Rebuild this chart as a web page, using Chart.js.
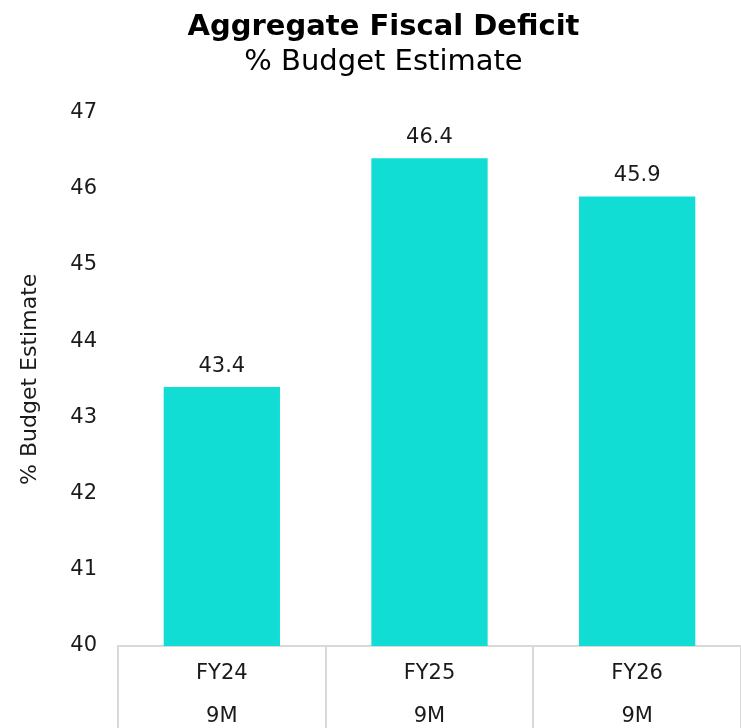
<!DOCTYPE html>
<html>
<head>
<meta charset="utf-8">
<script src="https://cdn.jsdelivr.net/npm/chart.js@4"></script>
<style>
  html, body { margin: 0; padding: 0; background: #fff; }
  #wrap { width: 741px; height: 728px; }
</style>
</head>
<body>
<div id="wrap"><canvas id="chart" width="741" height="728"></canvas></div>
<script>
// data
const categories = [['FY24', '9M'], ['FY25', '9M'], ['FY26', '9M']];
const deficitPct = [43.4, 46.4, 45.9];
const yTicks = [40, 41, 42, 43, 44, 45, 46, 47];

const FONT = "'DejaVu Sans', sans-serif";
const TEXT = '#1a1a1a';
const BAR = '#12DDD4';
const LINE = '#d9d9d9';

// value labels above the bars
const valueLabels = {
  id: 'valueLabels',
  afterDatasetsDraw(chart) {
    const ctx = chart.ctx;
    const meta = chart.getDatasetMeta(0);
    ctx.save();
    ctx.font = '21px ' + FONT;
    ctx.fillStyle = TEXT;
    ctx.textAlign = 'center';
    ctx.textBaseline = 'bottom';
    meta.data.forEach((bar, i) => {
      ctx.fillText(deficitPct[i].toFixed(1), bar.x, bar.y - 10);
    });
    ctx.restore();
  }
};

// table-like separators under the x axis, at the category boundaries
const categoryCells = {
  id: 'categoryCells',
  afterDraw(chart) {
    const x = chart.scales.x;
    const ctx = chart.ctx;
    const half = (x.getPixelForValue(1) - x.getPixelForValue(0)) / 2;
    ctx.save();
    ctx.strokeStyle = LINE;
    ctx.lineWidth = 2;
    ctx.beginPath();
    for (let i = 0; i <= categories.length; i++) {
      const px = Math.round(x.getPixelForValue(i) - half);
      ctx.moveTo(px, x.top);
      ctx.lineTo(px, chart.height);
    }
    ctx.stroke();
    ctx.restore();
  }
};

new Chart(document.getElementById('chart'), {
  type: 'bar',
  data: {
    labels: categories,
    datasets: [{
      data: deficitPct,
      backgroundColor: BAR,
      borderWidth: 0,
      categoryPercentage: 0.56,
      barPercentage: 1
    }]
  },
  options: {
    responsive: false,
    animation: false,
    // left padding pushes the centred title to the right, like the reference
    layout: { padding: { left: 26, top: 0, right: 0, bottom: 0 } },
    plugins: {
      legend: { display: false },
      tooltip: { enabled: false },
      title: {
        display: true,
        text: 'Aggregate Fiscal Deficit',
        color: '#000',
        font: { family: FONT, size: 29, weight: 'bold' },
        padding: { top: 10, bottom: 0 }
      },
      subtitle: {
        display: true,
        text: '% Budget Estimate',
        color: '#000',
        font: { family: FONT, size: 29 },
        padding: { top: 0, bottom: 33 }
      }
    },
    scales: {
      x: {
        afterFit(axis) { axis.height = 82; },
        grid: { display: false, drawTicks: false },
        border: { display: true, color: LINE, width: 2 },
        ticks: {
          color: TEXT,
          font: { family: FONT, size: 21, lineHeight: 2.05 },
          padding: 6
        }
      },
      y: {
        min: 40,
        max: 47,
        afterBuildTicks(axis) { axis.ticks = yTicks.map(v => ({ value: v })); },
        afterFit(axis) { axis.width = 92; },
        grid: { display: false, drawTicks: false },
        border: { display: false },
        ticks: {
          color: TEXT,
          font: { family: FONT, size: 21 },
          padding: 21
        },
        title: {
          display: true,
          text: '% Budget Estimate',
          color: TEXT,
          font: { family: FONT, size: 22 },
          padding: { top: -9, bottom: 0 }
        }
      }
    }
  },
  plugins: [valueLabels, categoryCells]
});
</script>
</body>
</html>
